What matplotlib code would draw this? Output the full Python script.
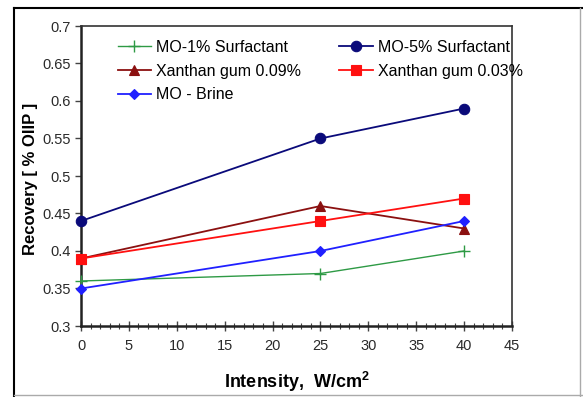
import matplotlib
matplotlib.use("Agg")
import matplotlib.pyplot as plt
from matplotlib.lines import Line2D
from matplotlib.ticker import MultipleLocator, FuncFormatter

plt.rcParams['font.family'] = ['Liberation Sans', 'DejaVu Sans']
plt.rcParams['mathtext.fontset'] = 'custom'
plt.rcParams['mathtext.bf'] = 'Liberation Sans:bold'
plt.rcParams['mathtext.rm'] = 'Liberation Sans'

intensity = [0, 25, 40]
mo_1pct_surf = [0.36, 0.37, 0.40]
mo_5pct_surf = [0.44, 0.55, 0.59]
xanthan_009 = [0.39, 0.46, 0.43]
xanthan_003 = [0.39, 0.44, 0.47]
mo_brine = [0.35, 0.40, 0.44]

W, H = 583, 397
fig = plt.figure(figsize=(W / 100, H / 100), dpi=100)
ax = fig.add_axes([81 / W, 1 - 326 / H, (512 - 81) / W, (326 - 26) / H])

series = [
    ("MO-1% Surfactant", mo_1pct_surf, "#2e9a45", "+", 8, 1.0),
    ("Xanthan gum 0.09%", xanthan_009, "#8b1010", "^", 7, 1.3),
    ("MO - Brine", mo_brine, "#2020ff", "D", 5.5, 1.3),
    ("MO-5% Surfactant", mo_5pct_surf, "#0a0a7a", "o", 7.5, 1.3),
    ("Xanthan gum 0.03%", xanthan_003, "#ff1010", "s", 7, 1.3),
]
for label, vals, col, mk, ms, lw in series:
    ax.plot(intensity, vals, color=col, marker=mk, markersize=ms, lw=lw,
            label=label, clip_on=False, zorder=3,
            markeredgewidth=1.0 if mk == "+" else 0.8)

ax.set_xlim(0, 45)
ax.set_ylim(0.3, 0.7)
ax.xaxis.set_major_locator(MultipleLocator(5))
ax.xaxis.set_minor_locator(MultipleLocator(1))
ax.yaxis.set_major_locator(MultipleLocator(0.05))
ax.yaxis.set_major_formatter(FuncFormatter(lambda v, p: f"{round(v, 2):g}"))
ax.tick_params(axis='both', which='major', labelsize=10.5, labelcolor='#2a2a2a',
               direction='out', length=4, width=1.0, color='#444444')
ax.tick_params(axis='x', which='minor', direction='inout', length=5, width=0.8,
               color='#444444')
ax.tick_params(axis='x', which='major', direction='inout', length=7, pad=6)

for side in ['left', 'bottom']:
    ax.spines[side].set_linewidth(1.8)
    ax.spines[side].set_color('#222222')
for side in ['top', 'right']:
    ax.spines[side].set_linewidth(1.2)
    ax.spines[side].set_color('#333333')

ax.set_xlabel("Intensity,  W/cm$^{\\mathbf{2}}$", fontsize=13, fontweight='bold',
              labelpad=12)
ax.set_ylabel("Recovery [ % OIIP ]", fontsize=12, fontweight='bold')
ax.yaxis.set_label_coords(-0.10, 0.49)

leg = ax.legend(ncol=2, loc='upper left', bbox_to_anchor=(0.07, 0.975),
                frameon=False, fontsize=11.5, handlelength=2.1,
                handletextpad=0.3, columnspacing=2.4, labelspacing=0.55,
                borderaxespad=0)

# outer border around the figure
fig.add_artist(Line2D([14 / W, 1], [1 - 8 / H, 1 - 8 / H], color='black', lw=1.5,
                      transform=fig.transFigure))
fig.add_artist(Line2D([14 / W, 14 / W], [1 - 8 / H, 0], color='black', lw=1.5,
                      transform=fig.transFigure))
fig.add_artist(Line2D([580 / W, 580 / W], [1 - 8 / H, 0], color='#aaaaaa', lw=1.0,
                      transform=fig.transFigure))
fig.add_artist(Line2D([14 / W, 1], [1 - 395 / H, 1 - 395 / H], color='#aaaaaa',
                      lw=1.0, transform=fig.transFigure))

fig.savefig("out.png", dpi=100)
